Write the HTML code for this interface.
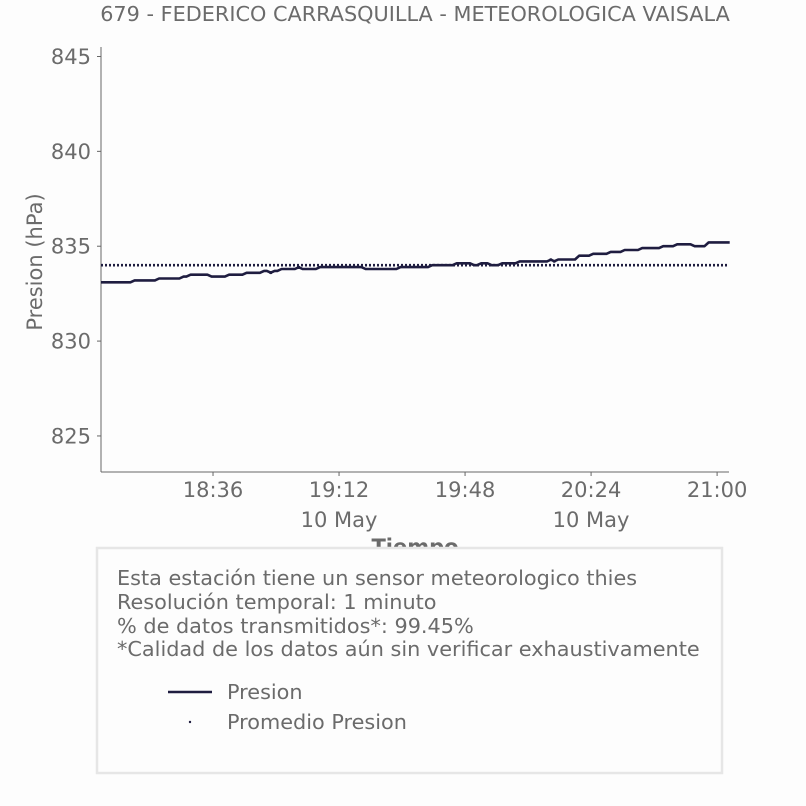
<!DOCTYPE html>
<html><head><meta charset="utf-8"><style>
html,body{margin:0;padding:0;background:#fdfdfd;}
svg{display:block;font-family:"DejaVu Sans","Liberation Sans",sans-serif;}
</style></head><body>
<svg id="chart" width="806" height="806" viewBox="0 0 806 806">
<rect x="0" y="0" width="806" height="806" fill="#fdfdfd"/>
<text x="415" y="21" text-anchor="middle" font-size="20.8" fill="#6b6b6b">679 - FEDERICO CARRASQUILLA - METEOROLOGICA VAISALA</text>
<g id="axes"></g>
<g id="series"></g>
<text transform="translate(42,262) rotate(-90)" text-anchor="middle" font-size="21" fill="#6b6b6b">Presion (hPa)</text>
<text x="415" y="554" text-anchor="middle" font-size="21" font-weight="bold" fill="#6b6b6b">Tiempo</text>
<rect x="97" y="548" width="625" height="225" fill="#fdfdfd" stroke="#e6e6e6" stroke-width="2.5"/>
<g font-size="20.8" fill="#6b6b6b">
<text x="117" y="585">Esta estación tiene un sensor meteorologico thies</text>
<text x="117" y="609">Resolución temporal: 1 minuto</text>
<text x="117" y="633">% de datos transmitidos*: 99.45%</text>
<text x="117" y="656">*Calidad de los datos aún sin verificar exhaustivamente</text>
</g>
<g>
<line x1="168" y1="692" x2="212" y2="692" stroke="#1f1d40" stroke-width="2.5"/>
<text x="227" y="699" font-size="20.8" fill="#6b6b6b">Presion</text>
<circle cx="190" cy="722" r="1.2" fill="#1f1d40"/>
<text x="227" y="729" font-size="20.8" fill="#6b6b6b">Promedio Presion</text>
</g>
</svg>
<script>
// minutes since 18:04 where each step starts, and the pressure value
const stepMinutes = [0,9,16,23,25,31,36,41,46,48,49,51,56,57,62,75,85,94,101,106,108,111,114,119,128,129,130,136,140,145,149,154,160,164,169,173,179];
const pressure = [833.1,833.2,833.3,833.4,833.5,833.4,833.5,833.6,833.7,833.6,833.7,833.8,833.9,833.8,833.9,833.8,833.9,834.0,834.1,834.0,834.1,834.0,834.1,834.2,834.3,834.2,834.3,834.5,834.6,834.7,834.8,834.9,835.0,835.1,835.0,835.2,835.2];
const meanPressure = [834.0];
const yTicks = [825,830,835,840,845];
const xTickMinutes = [32,68,104,140,176];
const xTickLabels = ["18:36","19:12","19:48","20:24","21:00"];
const xDateLabels = ["","10 May","","10 May",""];

const X0=101,X1=729,Y0=472,Y1=47;
const tMin=0,tMax=179.4,vMin=823.1,vMax=845.5;
const xs=t=>X0+(t-tMin)/(tMax-tMin)*(X1-X0);
const ys=v=>Y0-(v-vMin)/(vMax-vMin)*(Y0-Y1);
const NS="http://www.w3.org/2000/svg";
const axes=document.getElementById('axes'), series=document.getElementById('series');
function mk(tag,attrs,parent){const e=document.createElementNS(NS,tag);for(const k in attrs)e.setAttribute(k,attrs[k]);parent.appendChild(e);return e;}

let e=mk('line',{x1:X0,y1:Y1,x2:X0,y2:Y0,stroke:'#666','stroke-width':1},axes);


e=mk('line',{x1:X0,y1:Y0,x2:X1,y2:Y0,stroke:'#666','stroke-width':1},axes);



yTicks.forEach(v=>{
  const y=ys(v);
  let t=mk('line',{x1:X0-4,y1:y,x2:X0,y2:y,stroke:'#666'},axes);
  
  
  let l=mk('text',{x:X0-10,y:y+7.5,'text-anchor':'end','font-size':21,fill:'#6b6b6b'},axes);
  l.textContent=v;
  
  
});
xTickMinutes.forEach((m,i)=>{
  const x=xs(m);
  let t=mk('line',{x1:x,y1:Y0,x2:x,y2:Y0+4,stroke:'#666'},axes);
  
  
  let l=mk('text',{x:x,y:497,'text-anchor':'middle','font-size':21,fill:'#6b6b6b'},axes);
  l.textContent=xTickLabels[i];
  
  
  if(xDateLabels[i]){
    let d=mk('text',{x:x,y:527,'text-anchor':'middle','font-size':21,fill:'#6b6b6b'},axes);
    d.textContent=xDateLabels[i];
    
    
  }
});

// mean line
const my=ys(meanPressure[0]);
let ml=mk('line',{x1:X0,y1:my,x2:xs(stepMinutes[stepMinutes.length-1]),y2:my,stroke:'#1f1d40','stroke-width':2.6,'stroke-dasharray':'2 2'},series);



// step series
let pts=[];
for(let i=0;i<stepMinutes.length;i++){
  const t=stepMinutes[i], v=pressure[i];
  if(i>0) pts.push(xs(t-0.6).toFixed(1)+','+ys(pressure[i-1]).toFixed(1));
  pts.push(xs(t+ (i>0?0.6:0)).toFixed(1)+','+ys(v).toFixed(1));
}
let pl=mk('polyline',{points:pts.join(' '),fill:'none',stroke:'#1f1d40','stroke-width':2.6,'stroke-linejoin':'round'},series);


</script>
</body></html>
